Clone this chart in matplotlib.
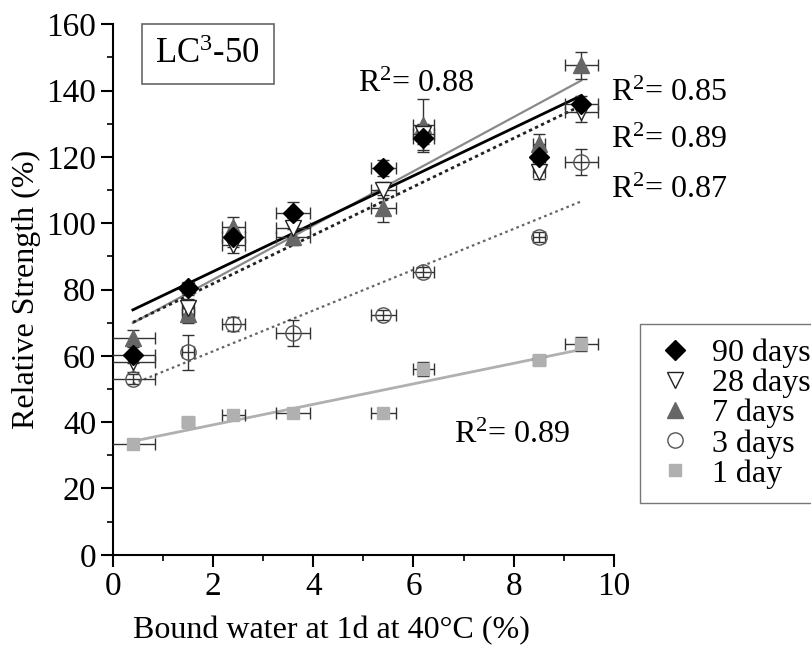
import matplotlib.pyplot as plt
import numpy as np

# bound water at 1 d (%) for each mix
bound_water = [0.4, 1.5, 2.4, 3.6, 5.4, 6.2, 8.5, 9.35]
bw_err = [0.45, 0.12, 0.23, 0.34, 0.25, 0.2, 0.12, 0.33]

ages = ["90 days", "28 days", "7 days", "3 days", "1 day"]
strength_90d = [60.2, 80.4, 95.8, 103, 116.6, 125.6, 119.9, 136]
strength_28d = [58, 74.5, 93.4, 98.5, 110, 127, 115.4, 133.4]
strength_7d = [65.4, 72.5, 99, 95.8, 104.5, 129.5, 124, 147.6]
strength_3d = [53, 61.1, 69.6, 66.9, 72.3, 85.2, 95.8, 118.4]
strength_1d = [33.4, 40, 42.2, 42.8, 42.8, 56, 58.7, 63.6]

err_90d = [2.5, 2, 3, 3.5, 2.5, 3.5, 2.5, 2.5]
err_28d = [3, 2.5, 2.5, 3, 2.5, 3, 2, 3]
err_7d = [2.5, 2.5, 3, 2.5, 4, 8, 3, 4]
err_3d = [1.5, 5.3, 2, 4, 1.5, 1.5, 1.5, 4]
err_1d = [1.5, 1, 1.5, 1, 1, 2, 1, 2]

r2_values = ["0.88", "0.89", "0.85", "0.87", "0.89"]

series = [strength_90d, strength_28d, strength_7d, strength_3d, strength_1d]
errors = [err_90d, err_28d, err_7d, err_3d, err_1d]

styles = [
    dict(marker="D", mfc="black", mec="black", ms=10),
    dict(marker="v", mfc="white", mec="#222222", ms=11),
    dict(marker="^", mfc="#666666", mec="#666666", ms=11),
    dict(marker="o", mfc="none", mec="#555555", ms=11),
    dict(marker="s", mfc="#b0b0b0", mec="#b0b0b0", ms=9),
]
fit_styles = [
    dict(color="black", ls="-", lw=2.0),
    dict(color="#222222", ls=(0, (1.2, 1.2)), lw=2.0),
    dict(color="#8a8a8a", ls="-", lw=1.6),
    dict(color="#666666", ls=(0, (1.2, 1.5)), lw=1.6),
    dict(color="#b0b0b0", ls="-", lw=2.0),
]
# where the R² labels sit (data coords)
r2_pos = [(4.9, 142), (9.95, 125), (9.95, 139), (9.95, 110), (6.8, 36)]

plt.rcParams["font.family"] = ["Liberation Serif", "DejaVu Serif"]
plt.rcParams["mathtext.fontset"] = "custom"
plt.rcParams["mathtext.rm"] = "Liberation Serif"
plt.rcParams["mathtext.it"] = "Liberation Serif:italic"

fig = plt.figure(figsize=(8.12, 6.55), dpi=100)
ax = fig.add_axes([0.139, 0.153, 0.617, 0.81])

x = np.array(bound_water)
handles = []
# draw in reverse so 90 days sits on top
for i in range(len(series) - 1, -1, -1):
    y = np.array(series[i])
    k, b = np.polyfit(x, y, 1)
    xs = np.array([x.min(), x.max()])
    ax.plot(xs, k * xs + b, zorder=2, **fit_styles[i])
    ax.errorbar(x, y, yerr=errors[i], xerr=bw_err, fmt="none",
                ecolor="#333333", elinewidth=1.0, capsize=4, capthick=1.0, zorder=3)
    h, = ax.plot(x, y, ls="none", zorder=4, label=ages[i], **styles[i])
    handles.append(h)
handles = handles[::-1]

for (tx, ty), r2 in zip(r2_pos, r2_values):
    ax.text(tx, ty, "R$^\\mathregular{2}$= " + r2, fontsize=23, ha="left", va="center",
            clip_on=False)

ax.text(0.85, 151, "LC$^\\mathregular{3}$-50", fontsize=25, ha="left", va="center",
        bbox=dict(boxstyle="square,pad=0.4", fc="white", ec="#666666", lw=1.2))

ax.set_xlim(0, 10)
ax.set_ylim(0, 160)
ax.set_xticks(np.arange(0, 11, 2))
ax.set_yticks(np.arange(0, 161, 20))
ax.set_xticks(np.arange(1, 10, 2), minor=True)
ax.set_yticks(np.arange(10, 160, 20), minor=True)
ax.tick_params(which="major", direction="out", length=8.5, width=1.5, labelsize=24)
ax.tick_params(which="minor", direction="out", length=4.5, width=1.2)
for s in ["top", "right"]:
    ax.spines[s].set_visible(False)
for s in ["left", "bottom"]:
    ax.spines[s].set_linewidth(1.5)

ax.set_xlabel("Bound water at 1d at 40°C (%)", fontsize=23, labelpad=12)
ax.xaxis.set_label_coords(0.437, -0.115)
ax.set_ylabel("Relative Strength (%)", fontsize=23, labelpad=4)

fig.legend(handles, ages, loc="upper left", bbox_to_anchor=(0.788, 0.505),
           borderaxespad=0, fontsize=23, frameon=True, fancybox=False,
           edgecolor="#555555", handletextpad=0.5, labelspacing=0.02,
           borderpad=0.45, handlelength=1.3)

fig.savefig("out.png", dpi=100)
